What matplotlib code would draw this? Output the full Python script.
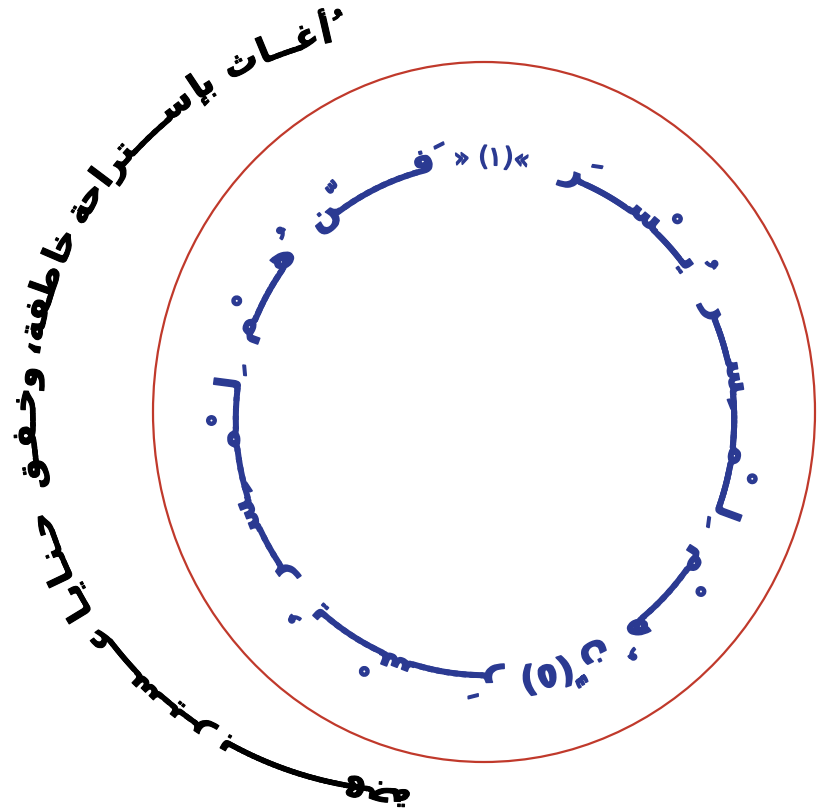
import numpy as np
import matplotlib
matplotlib.use("Agg")
import matplotlib.pyplot as plt
import matplotlib.patheffects as pe
from matplotlib.patches import Ellipse
from matplotlib.font_manager import FontProperties, findfont, get_font
from matplotlib.ft2font import LoadFlags

W, H, DPI = 817, 810, 100
FONT = "DejaVu Sans"

# words, logical order (right to left, running counterclockwise)
outer_words = ["أُغــــاث", "بإسـتراحة", "خاطـفة،", "وخـفـق", "حـنـايـا", "عـــسـيـر", "بـــــــــــهجة"]
inner_words = ["يُـــسْــــرَ", "«(١) »", "فَــــــــــنّ", "هُـــــــمْ", "لِــــمْـــــسِــــر",
               "يُــــسْــــرَ", "(٥)", "نَّ", "هُـــــــمْ", "لِــــمْـــــسِــــر"]

# layout: angular span of each word on its ring (degrees, right end -> left end)
OUTER_RING = (413, H - 411, 378, 378)
INNER_RING = (485, H - 419, 247, 254)
OUTER_SPANS = [(102, 119), (121, 151), (152, 171), (173, 192), (195, 212.5), (214, 238), (239.5, 270)]
INNER_SPANS = [(35, 72), (80, 97), (101, 133), (139.5, 163), (170.5, 219),
               (227, 274), (279, 289), (291, 300), (304, 330), (337.5, 387)]

# presentation forms: letter -> (isolated code, number of forms)
FORMS = {
    'ء': (0xFE80, 1), 'آ': (0xFE81, 2), 'أ': (0xFE83, 2), 'ؤ': (0xFE85, 2), 'إ': (0xFE87, 2),
    'ئ': (0xFE89, 4), 'ا': (0xFE8D, 2), 'ب': (0xFE8F, 4), 'ة': (0xFE93, 2), 'ت': (0xFE95, 4),
    'ث': (0xFE99, 4), 'ج': (0xFE9D, 4), 'ح': (0xFEA1, 4), 'خ': (0xFEA5, 4), 'د': (0xFEA9, 2),
    'ذ': (0xFEAB, 2), 'ر': (0xFEAD, 2), 'ز': (0xFEAF, 2), 'س': (0xFEB1, 4), 'ش': (0xFEB5, 4),
    'ص': (0xFEB9, 4), 'ض': (0xFEBD, 4), 'ط': (0xFEC1, 4), 'ظ': (0xFEC5, 4), 'ع': (0xFEC9, 4),
    'غ': (0xFECD, 4), 'ف': (0xFED1, 4), 'ق': (0xFED5, 4), 'ك': (0xFED9, 4), 'ل': (0xFEDD, 4),
    'م': (0xFEE1, 4), 'ن': (0xFEE5, 4), 'ه': (0xFEE9, 4), 'و': (0xFEED, 2), 'ى': (0xFEEF, 2),
    'ي': (0xFEF1, 4), 'ـ': (0x0640, 0),
}
MIRROR = {'(': ')', ')': '('}
KASH = 'ـ'


def is_mark(c):
    return 0x064B <= ord(c) <= 0x0652 or ord(c) == 0x0670


def shape(s):
    cl = []
    for c in s:
        if is_mark(c) and cl:
            cl[-1] += c
        else:
            cl.append(c)
    out = []
    for i, c in enumerate(cl):
        b = c[0]
        if b in FORMS and FORMS[b][1] > 1:
            code, n = FORMS[b]
            p = cl[i - 1][0] if i > 0 else ''
            q = cl[i + 1][0] if i + 1 < len(cl) else ''
            jp = p in FORMS and FORMS[p][1] in (0, 4)
            jn = n == 4 and q in FORMS and FORMS[q][1] != 1
            c = chr(code + (1 if jp else 0) + (2 if jn else 0)) + c[1:]
        elif b in MIRROR:
            c = MIRROR[b] + c[1:]
        out.append(c)
    return out


def ring_table(cx, cy, rx, ry, t0):
    t = np.radians(t0) + np.linspace(0, 2 * np.pi, 6000)
    x = cx + rx * np.cos(t)
    y = cy + ry * np.sin(t)
    s = np.concatenate([[0], np.cumsum(np.hypot(np.diff(x), np.diff(y)))])
    return t, s


def place_word(ax, word, ring, t_right, t_left, size, color, weight, lw):
    cx, cy, rx, ry = ring
    if '«' in word:
        size, weight = size * 0.75, 'normal'
    ft = get_font(findfont(FontProperties(family=FONT, weight=weight)))
    ft.set_size(size, 72)
    k = DPI / 72

    def metric(ch):
        g = ft.load_char(ord(ch), flags=LoadFlags.NO_HINTING)
        return g.linearHoriAdvance / 65536 * k, (g.horiBearingX + g.width / 2) / 64 * k

    t, s = ring_table(cx, cy, rx, ry, t_right)
    span = np.interp(np.radians(t_left), t, s)
    cls = shape(word)
    ka = metric(KASH)[0]
    rest = sum(metric(c[0])[0] for c in cls if c != KASH)
    nk = cls.count(KASH)
    if nk:
        # add tatweels until the stretch closes without gaps
        m = max(1, int(np.ceil((span - rest) / (nk * ka) / 0.8)))
        cls = [g for c in cls for g in ([c] * m if c == KASH else [c])]
        f, pen = max((span - rest) / (nk * m * ka), 0.05), 0.0
    else:
        f, pen = 1.0, (span - rest) / 2
    fx = [pe.withStroke(linewidth=lw, foreground=color)]
    for c in cls:
        a, m = metric(c[0])
        if c == ' ':
            pen += a
            continue
        if c == KASH:
            d, a = pen + a * f / 2, a * f
        else:
            d = pen + a - m
        tt = np.interp(d, s, t)
        x = cx + rx * np.cos(tt)
        y = cy + ry * np.sin(tt)
        rot = np.degrees(np.arctan2(-ry * np.cos(tt), rx * np.sin(tt)))
        ax.text(x, y, c, fontsize=size, color=color, family=FONT, weight=weight,
                rotation=rot, rotation_mode='anchor', ha='center', va='baseline',
                path_effects=fx)
        pen += a


fig = plt.figure(figsize=(W / DPI, H / DPI), dpi=DPI)
ax = fig.add_axes([0, 0, 1, 1])
ax.set_xlim(0, W)
ax.set_ylim(0, H)
ax.axis('off')

ax.add_patch(Ellipse((484, H - 412), 662, 700, fill=False, ec='#c0392b', lw=1.6))

for w, (a, b) in zip(inner_words, INNER_SPANS):
    place_word(ax, w, INNER_RING, a, b, 25, '#2b3a92', 'bold', 1.2)
for w, (a, b) in zip(outer_words, OUTER_SPANS):
    place_word(ax, w, OUTER_RING, a, b, 25, 'black', 'bold', 0.8)

fig.savefig('out.png', dpi=DPI)
